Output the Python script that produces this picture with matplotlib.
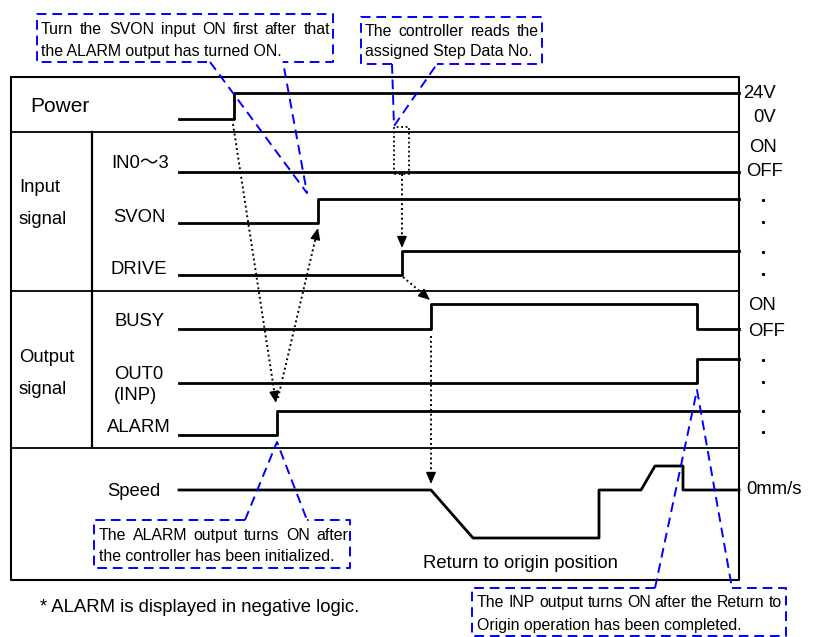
import numpy as np
import matplotlib.pyplot as plt

plt.rcParams['font.family'] = ['Liberation Sans', 'Noto Sans CJK JP', 'DejaVu Sans']

# ---------------
# Timing data (x = time in pixel units of the drawing)
# ---------------
t_begin, t_end = 179, 739
t_power = 234
t_alarm = 277
t_svon = 318
t_drive = 402
t_busy_on = 431
t_busy_off = 697
t_inp = 697

sig_names = ["IN0～3", "SVON", "DRIVE", "BUSY", "OUT0\n(INP)", "ALARM"]
sig_edges = [[], [t_svon], [t_drive], [t_busy_on, t_busy_off], [t_inp], [t_alarm]]

# speed profile (0 = stopped, -1 = return speed, 0.5 = short push)
speed_t = [179, 431, 473, 599, 599, 641, 655, 683, 683, 739]
speed_v = [0, 0, -1, -1, 0, 0, 0.5, 0.5, 0, 0]

notes = [
    ("Turn the SVON input ON first after that", "the ALARM output has turned ON."),
    ("The controller reads the", "assigned Step Data No."),
    ("The ALARM output turns ON after", "the controller has been initialized."),
    ("The INP output turns ON after the Return to", "Origin operation has been completed."),
]

# ---------------
# Layout
# ---------------
power_low, power_high = 119, 93
sig_low = [172, 223, 275, 329, 383, 435]
sig_high = [172, 199, 251, 304, 359, 411]
sig_lab_xy = [(111, 163), (113, 217), (111, 269), (114, 321), (114, 385), (107, 428)]
speed_y0, speed_scale = 490, 48

BLUE = "#0000ff"
FS = 13.3
FS_NOTE = 11.4


def steps(edges, low, high):
    xs, ys = [t_begin], [low]
    lvl = low
    for e in edges:
        xs += [e, e]
        ys += [lvl, high if lvl == low else low]
        lvl = ys[-1]
    xs.append(t_end)
    ys.append(lvl)
    return xs, ys


def dotted_arrow(p0, p1):
    p0, p1 = np.array(p0, float), np.array(p1, float)
    d = (p1 - p0) / np.hypot(*(p1 - p0))
    mid = p1 - d * 8
    ax.plot([p0[0], mid[0]], [p0[1], mid[1]], color="k", lw=1.4, ls=(0, (1, 1.5)))
    ax.annotate("", xy=p1, xytext=mid,
                arrowprops=dict(arrowstyle="-|>,head_length=0.7,head_width=0.3",
                                color="k", lw=1, shrinkA=0, shrinkB=0))


def blue_dash(xs, ys):
    ax.plot(xs, ys, color=BLUE, lw=1.4, ls=(0, (5, 3)))


def justify(text, x0, x1, y):
    # spread the words of a line over the full box width (baseline aligned)
    words = text.split()
    objs = [ax.text(0, y + 4, w, fontsize=FS_NOTE, va="baseline", ha="left") for w in words]
    r = fig.canvas.get_renderer()
    widths = [o.get_window_extent(r).width for o in objs]
    gap = (x1 - x0 - sum(widths)) / (len(words) - 1)
    x = x0
    for o, w in zip(objs, widths):
        o.set_x(x)
        x += w + gap


fig = plt.figure(figsize=(8.18, 6.37), dpi=100)
ax = fig.add_axes([0, 0, 1, 1])
ax.set_xlim(0, 818)
ax.set_ylim(637, 0)
ax.axis("off")

# frame and dividers
ax.plot([11, 739, 739, 11, 11], [77, 77, 580, 580, 77], color="k", lw=1.5)
for yy in [132, 291, 448]:
    ax.plot([11, 739], [yy, yy], color="k", lw=1.3)
ax.plot([92, 92], [132, 446], color="k", lw=1.6)

# power
px, py = steps([t_power], power_low, power_high)
ax.plot(px, py, color="k", lw=2)
ax.text(30, 107, "Power", fontsize=15, va="center")

# I/O signals
for name, edges, lo, hi, (lx, ly) in zip(sig_names, sig_edges, sig_low, sig_high, sig_lab_xy):
    xs, ys = steps(edges, lo, hi)
    ax.plot(xs, ys, color="k", lw=2)
    ax.text(lx, ly, name, fontsize=FS, va="center", linespacing=1.35)

ax.text(19, 188, "Input", fontsize=FS, va="center")
ax.text(19, 220, "signal", fontsize=FS, va="center")
ax.text(19, 357, "Output", fontsize=FS, va="center")
ax.text(19, 390, "signal", fontsize=FS, va="center")

# speed
ax.plot(speed_t, [speed_y0 - v * speed_scale for v in speed_v], color="k", lw=2)
ax.text(107, 492, "Speed", fontsize=FS, va="center")
ax.text(423, 563, "Return to origin position", fontsize=FS, va="center")

# right-hand level labels
ax.text(743, 93, "24V", fontsize=FS, va="center")
ax.text(753, 117, "0V", fontsize=FS, va="center")
ax.text(749, 147, "ON", fontsize=FS, va="center")
ax.text(746, 171, "OFF", fontsize=FS, va="center")
ax.text(748, 306, "ON", fontsize=FS, va="center")
ax.text(748, 332, "OFF", fontsize=FS, va="center")
ax.text(746, 490, "0mm/s", fontsize=FS, va="center")
dot_y = [200, 222, 252, 274, 360, 382, 411, 432]
ax.plot([763] * len(dot_y), dot_y, "ks", ms=1.2, ls="none")

# dotted cause/effect arrows
dotted_arrow((233, 124), (276, 403))
dotted_arrow((278, 398), (318, 228))
dotted_arrow((403, 277), (430, 300))
dotted_arrow((431, 336), (431, 484))
ax.plot([394, 394, 409, 409, 394], [174, 127, 127, 174, 174], color="k", lw=1.3, ls=(0, (1, 1.5)))
dotted_arrow((402, 174), (402, 248))

# blue callout boxes
blue_dash([207, 37, 37, 333, 333, 283], [62, 62, 14, 14, 62, 62])
blue_dash([210, 307, 283], [62, 193, 62])
blue_dash([392, 361, 361, 542, 542, 437], [64, 64, 17, 17, 64, 64])
blue_dash([392, 394, 437], [64, 126, 64])
blue_dash([245, 94, 94, 350, 350, 307], [520, 520, 568, 568, 520, 520])
blue_dash([245, 277, 307], [520, 442, 520])
blue_dash([655, 472, 472, 786, 786, 732], [588, 588, 636, 636, 588, 588])
blue_dash([655, 697, 732], [588, 390, 588])

note_box = [(41, 330, 30, 52), (365, 539, 32, 52), (99, 348, 536, 557), (477, 782, 603, 626)]
for (l1, l2), (x0, x1, y1, y2) in zip(notes, note_box):
    justify(l1, x0, x1, y1)
    ax.text(x0, y2 + 4, l2, fontsize=FS_NOTE, va="baseline")

ax.text(40, 608, "* ALARM is displayed in negative logic.", fontsize=FS, va="center")

fig.savefig("out.png", dpi=100)
